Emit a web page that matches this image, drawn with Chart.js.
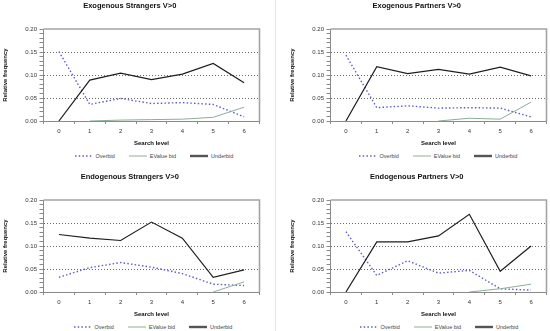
<!DOCTYPE html>
<html><head><meta charset="utf-8">
<script src="https://cdn.jsdelivr.net/npm/chart.js@4"></script>
<style>
html,body{margin:0;padding:0;background:#fff;width:550px;height:331px;overflow:hidden;position:relative;font-family:"Liberation Sans",Arial,sans-serif}
.panel{position:absolute;width:263px;height:150px}
.legend{position:absolute;width:216px;height:8px;display:flex;align-items:center;justify-content:center;font-size:5.5px;color:#444;white-space:nowrap;line-height:8px}
.item{display:flex;align-items:center;margin-right:14px}
.item:last-child{margin-right:0}
.item svg{margin-right:3px}
.sep{position:absolute;background:#e6e6e6}
</style></head>
<body>
<div class="sep" style="left:275px;top:0;width:1px;height:331px"></div>
<canvas id="c0" class="panel" width="263" height="150" style="left:0;top:0"></canvas>
<canvas id="c1" class="panel" width="263" height="150" style="left:287px;top:0"></canvas>
<canvas id="c2" class="panel" width="263" height="150" style="left:0;top:171px"></canvas>
<canvas id="c3" class="panel" width="263" height="150" style="left:287px;top:171px"></canvas>
<div id="l0" class="legend" style="left:46px;top:152px"></div>
<div id="l1" class="legend" style="left:330px;top:152px"></div>
<div id="l2" class="legend" style="left:45px;top:323px"></div>
<div id="l3" class="legend" style="left:331px;top:323px"></div>
<script>
const searchLevels = ['0','1','2','3','4','5','6'];
const seriesNames = ['Overbid','EValue bid','Underbid'];
const panelTitles = ['Exogenous Strangers V>0','Exogenous Partners V>0','Endogenous Strangers V>0','Endogenous Partners V>0'];

const exoStrOver  = [0.151,0.036,0.049,0.038,0.040,0.036,0.009];
const exoStrEV    = [null,0.000,0.002,0.003,0.004,0.008,0.030];
const exoStrUnder = [0.000,0.089,0.104,0.090,0.102,0.125,0.083];

const exoParOver  = [0.143,0.029,0.033,0.028,0.029,0.028,0.009];
const exoParEV    = [null,null,null,0.000,0.006,0.004,0.041];
const exoParUnder = [0.000,0.118,0.103,0.112,0.102,0.117,0.098];

const endoStrOver  = [0.032,0.053,0.064,0.054,0.040,0.017,0.014];
const endoStrEV    = [null,null,null,null,null,0.000,0.022];
const endoStrUnder = [0.125,0.117,0.112,0.152,0.117,0.032,0.048];

const endoParOver  = [0.131,0.036,0.068,0.041,0.047,0.007,0.004];
const endoParEV    = [null,null,null,null,0.000,0.007,0.017];
const endoParUnder = [0.000,0.109,0.109,0.122,0.169,0.045,0.100];

const panelData = [
  [exoStrOver, exoStrEV, exoStrUnder],
  [exoParOver, exoParEV, exoParUnder],
  [endoStrOver, endoStrEV, endoStrUnder],
  [endoParOver, endoParEV, endoParUnder]
];

const seriesStyle = [
  {borderColor:'#5c5cd0', borderWidth:1.4, borderDash:[1.5,2.2], legendWidth:1.3},
  {borderColor:'#8cae96', borderWidth:1, borderDash:[], legendWidth:1},
  {borderColor:'#1e1e1e', borderWidth:1.2, borderDash:[], legendWidth:2.4, legendColor:'#555'}
];

const FONT = '"Liberation Sans", Arial, sans-serif';

const framePlugin = {
  id:'frame',
  afterDraw(chart){
    const {ctx, chartArea:a} = chart;
    ctx.save();
    ctx.strokeStyle = '#a4a4a4';
    ctx.lineWidth = 1.6;
    ctx.beginPath();
    ctx.moveTo(a.left, a.top); ctx.lineTo(a.right, a.top); ctx.lineTo(a.right, a.bottom);
    ctx.stroke();
    ctx.restore();
  }
};

function isMajor(v){ return Math.abs(Math.round(v*100) % 5) === 0; }

function makeChart(i){
  const datasets = seriesNames.map((name, k) => ({
    label: name,
    data: panelData[i][k],
    borderColor: seriesStyle[k].borderColor,
    borderWidth: seriesStyle[k].borderWidth,
    borderDash: seriesStyle[k].borderDash,
    pointRadius: 0,
    pointHoverRadius: 0,
    tension: 0,
    fill: false,
    spanGaps: false,
    order: 3 - k
  }));
  const chart = new Chart(document.getElementById('c'+i), {
    type:'line',
    data:{labels: searchLevels, datasets},
    options:{
      responsive:false,
      animation:false,
      events:[],
      layout:{padding:{left:0,right:3.5,top:0,bottom:0}},
      plugins:{
        legend:{display:false},
        tooltip:{enabled:false},
        title:{display:true, text: panelTitles[i], color:'#111',
          font:{family:FONT, size:7.5, weight:'bold', lineHeight:1.2},
          padding:{top:1.2, bottom:18.8}}
      },
      scales:{
        x:{
          type:'category',
          offset:true,
          grid:{offset:true, drawOnChartArea:false, drawTicks:true, tickLength:3, tickColor:'#8a8a8a'},
          border:{display:true, color:'#8a8a8a', width:1},
          ticks:{color:'#333', font:{family:FONT, size:6}, padding:3.4, maxRotation:0, autoSkip:false},
          title:{display:true, text:'Search level', color:'#111', font:{family:FONT, size:6, weight:'bold', lineHeight:1.2}, padding:{top:0,bottom:3.4}},
          afterFit(s){ s.height = 29; }
        },
        y:{
          type:'linear',
          min:0, max:0.2,
          grid:{
            drawTicks:true, tickLength:4,
            color:(c)=>{ const v=c.tick.value; return (isMajor(v) && v>0.001 && v<0.199) ? '#6a6a6a' : 'rgba(0,0,0,0)'; },
            tickColor:'#8a8a8a', lineWidth:1
          },
          border:{display:true, color:'#8a8a8a', width:1, dash:[1,2]},
          ticks:{stepSize:0.01, maxTicksLimit:21, autoSkip:false, color:'#333', font:{family:FONT, size:6}, padding:2.5,
            callback:(v)=> isMajor(v) ? v.toFixed(2) : ''},
          title:{display:true, text:'Relative frequency', color:'#111', font:{family:FONT, size:6, weight:'bold', lineHeight:1.2}, padding:{top:2.1,bottom:0}},
          afterFit(s){ s.width = 43.5; }
        }
      }
    },
    plugins:[framePlugin]
  });
  buildLegend(chart, document.getElementById('l'+i));
  return chart;
}

function buildLegend(chart, el){
  chart.data.datasets.forEach((ds, k) => {
    const st = seriesStyle[k];
    const item = document.createElement('div');
    item.className = 'item';
    const ns = 'http://www.w3.org/2000/svg';
    const svg = document.createElementNS(ns,'svg');
    svg.setAttribute('width','18'); svg.setAttribute('height','4');
    const ln = document.createElementNS(ns,'line');
    ln.setAttribute('x1','0'); ln.setAttribute('y1','2'); ln.setAttribute('x2','18'); ln.setAttribute('y2','2');
    ln.setAttribute('stroke', st.legendColor || ds.borderColor);
    ln.setAttribute('stroke-width', st.legendWidth);
    if (ds.borderDash && ds.borderDash.length) ln.setAttribute('stroke-dasharray', ds.borderDash.join(' '));
    svg.appendChild(ln);
    const txt = document.createElement('span');
    txt.textContent = ds.label;
    item.appendChild(svg); item.appendChild(txt);
    el.appendChild(item);
  });
}

for (let i=0;i<4;i++) makeChart(i);
</script>
</body></html>
